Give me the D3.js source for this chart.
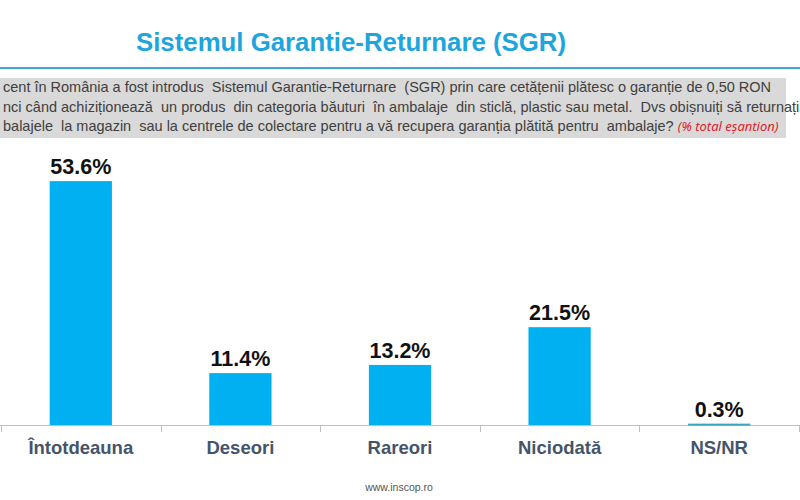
<!DOCTYPE html>
<html><head><meta charset="utf-8">
<script src="https://cdn.jsdelivr.net/npm/d3@7"></script>
<style>body{margin:0;background:#fff}svg{display:block}</style>
</head><body>
<svg id="c" width="800" height="500"></svg>
<script>
const categories = ["Întotdeauna", "Deseori", "Rareori", "Niciodată", "NS/NR"];
const values = [53.6, 11.4, 13.2, 21.5, 0.3];
const valueLabels = ["53.6%", "11.4%", "13.2%", "21.5%", "0.3%"];
const titleText = "Sistemul Garantie-Returnare (SGR)";
const questionLines = [
  "cent în România a fost introdus  Sistemul Garantie-Returnare  (SGR) prin care cetățenii plătesc o garanție de 0,50 RON",
  "nci când achiziționează  un produs  din categoria băuturi  în ambalaje  din sticlă, plastic sau metal.  Dvs obișnuiți să returnați",
  "balajele  la magazin  sau la centrele de colectare pentru a vă recupera garanția plătită pentru  ambalaje? "
];
const noteText = "(% total eșantion)";
const footerText = "www.inscop.ro";

const svg = d3.select("#c");
const sans = "'Liberation Sans',Arial,sans-serif";

// Title
svg.append("text").attr("x", 351).attr("y", 51).attr("text-anchor", "middle")
  .attr("font-family", sans).attr("font-weight", "bold").attr("font-size", 25.8)
  .attr("fill", "#1ea5dc").text(titleText);
svg.append("line").attr("x1", 0).attr("x2", 800).attr("y1", 68).attr("y2", 68)
  .attr("stroke", "#3aa8cc").attr("stroke-width", 2);

// Question box
svg.append("rect").attr("x", 0).attr("y", 78).attr("width", 786).attr("height", 60).attr("fill", "#d9d9d9");
const qg = svg.append("g").attr("font-family", sans).attr("font-size", 14.5).attr("fill", "#404040");
questionLines.forEach((l, i) => {
  const t = qg.append("text").attr("x", 3).attr("y", 92 + i * 19.5).style("white-space", "pre").text(l);
  if (i === 2) {
    t.append("tspan").attr("fill", "#e0202a").attr("font-style", "italic").attr("font-family", "'Noto Sans',sans-serif").attr("font-size", 13).text(noteText);
  }
});

// Scales
const x = d3.scaleBand().domain(categories).range([1, 799]).paddingInner(0.61).paddingOuter(0.305);
const y = d3.scaleLinear().domain([0, 60]).range([425, 425 - 60 * 4.55]);

// Axis line and boundary ticks
svg.append("line").attr("x1", 0).attr("x2", 800).attr("y1", 425.5).attr("y2", 425.5).attr("stroke", "#bfbfbf").attr("stroke-width", 1);
const step = x.step();
const bounds = d3.range(categories.length + 1).map(i => x(categories[0]) - x.paddingOuter() * step + i * step);
svg.selectAll("line.tk").data(bounds).join("line").attr("class", "tk")
  .attr("x1", d => Math.round(d) + 0.5).attr("x2", d => Math.round(d) + 0.5)
  .attr("y1", 425).attr("y2", 432).attr("stroke", "#bfbfbf");

// Bars
svg.selectAll("rect.bar").data(values).join("rect").attr("class", "bar")
  .attr("x", (d, i) => x(categories[i])).attr("width", x.bandwidth())
  .attr("y", d => y(d)).attr("height", d => Math.max(y(0) - y(d), 2))
  .attr("fill", (d, i) => i === 4 ? "#3aa8bf" : "#00b0f0");

// Value labels
svg.selectAll("text.val").data(values).join("text").attr("class", "val")
  .attr("x", (d, i) => x(categories[i]) + x.bandwidth() / 2)
  .attr("y", d => y(d) - 7).attr("text-anchor", "middle")
  .attr("font-family", sans).attr("font-weight", "bold").attr("font-size", 21.5).attr("fill", "#111")
  .text((d, i) => valueLabels[i]);

// Category labels
svg.selectAll("text.cat").data(categories).join("text").attr("class", "cat")
  .attr("x", d => x(d) + x.bandwidth() / 2).attr("y", 454).attr("text-anchor", "middle")
  .attr("font-family", sans).attr("font-weight", "bold").attr("font-size", 18.5).attr("fill", "#44546a")
  .text(d => d);

// Footer
svg.append("text").attr("x", 399).attr("y", 491).attr("text-anchor", "middle")
  .attr("font-family", sans).attr("font-size", 10.5).attr("fill", "#555").text(footerText);
</script>
</body></html>
